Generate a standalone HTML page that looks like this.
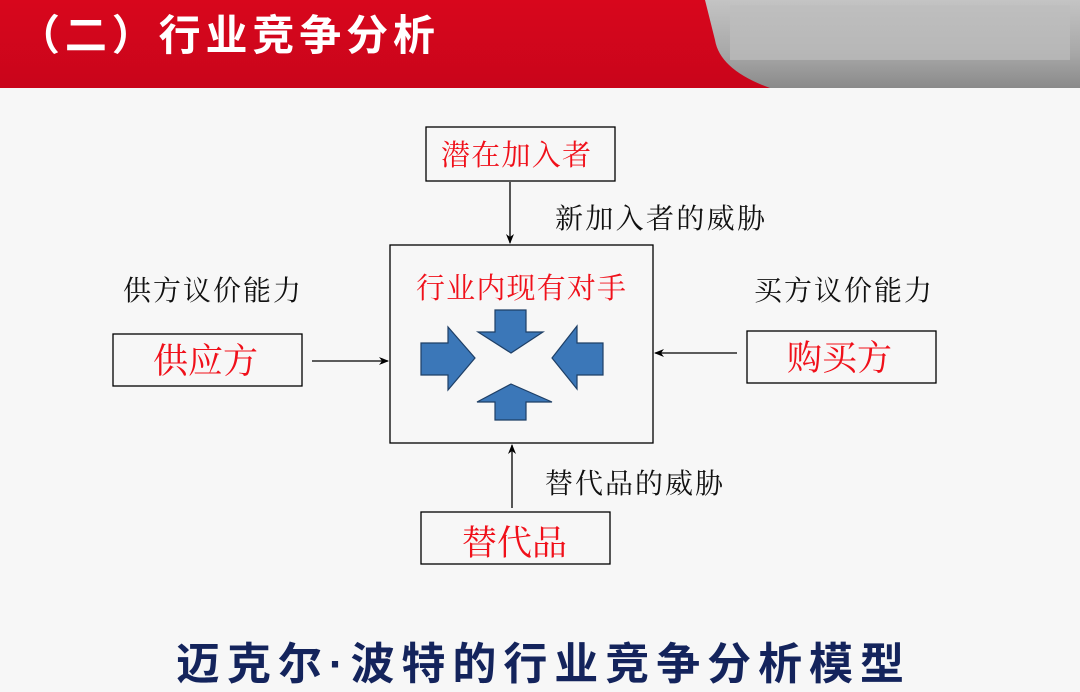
<!DOCTYPE html>
<html><head><meta charset="utf-8"><style>
html,body{margin:0;padding:0;background:#f7f7f7;}
svg{display:block}
</style></head><body>
<svg width="1080" height="692" viewBox="0 0 1080 692" xmlns="http://www.w3.org/2000/svg">
<defs>
<linearGradient id="rd" x1="0" y1="0" x2="0" y2="1">
<stop offset="0" stop-color="#d8061c"/><stop offset="1" stop-color="#c9051b"/></linearGradient>
<linearGradient id="gr" x1="0" y1="0" x2="0" y2="1">
<stop offset="0" stop-color="#c4c4c4"/><stop offset="0.6" stop-color="#a8a8a8"/><stop offset="1" stop-color="#8a8a8a"/></linearGradient>
<marker id="ar" markerWidth="10" markerHeight="8" refX="9" refY="4" orient="auto" markerUnits="userSpaceOnUse">
<path d="M0,0 L10,4 L0,8 L3,4 Z" fill="#000"/></marker>
</defs>
<rect width="1080" height="692" fill="#f7f7f7"/>
<rect x="0" y="0" width="1080" height="88" fill="url(#rd)"/>
<path d="M705,0 H1080 V88 H770 Q720,70 715,40 Z" fill="url(#gr)"/>
<rect x="730" y="5" width="340" height="55" fill="#bdbdbd" opacity="0.7"/>
<text x="18" y="50" font-family="'Liberation Sans','Noto Sans CJK SC',sans-serif" font-size="42" fill="#fff" font-weight="bold" textLength="417" lengthAdjust="spacing">（二）行业竞争分析</text>

<g fill="none" stroke="#000" stroke-width="1.3">
<rect x="426" y="127" width="189" height="54"/>
<rect x="390" y="245" width="263" height="198"/>
<rect x="113" y="334" width="189" height="52"/>
<rect x="747" y="331" width="189" height="52"/>
<rect x="421" y="512" width="189" height="52"/>
<line x1="510" y1="182" x2="510" y2="243" marker-end="url(#ar)"/>
<line x1="312" y1="361" x2="388" y2="361" marker-end="url(#ar)"/>
<line x1="737" y1="353" x2="655" y2="353" marker-end="url(#ar)"/>
<line x1="512" y1="508" x2="512" y2="445" marker-end="url(#ar)"/>
</g>
<g fill="#3b77b8" stroke="#1e3f66" stroke-width="1.2">
<polygon points="421,343 448,343 448,327 475,358 448,390 448,375 421,375"/>
<polygon points="495,310 526,310 526,332 543,332 511,353 478,332 495,332"/>
<polygon points="603,343 577,343 577,326 552,358 577,389 577,375 603,375"/>
<polygon points="511,384 552,402 526,402 526,420 495,420 495,402 477,402"/>
</g>
<g font-family="'Liberation Serif','Noto Serif CJK SC',serif">
<text x="441" y="165" font-size="29" fill="#f0101a" textLength="150">潜在加入者</text>
<text x="416" y="298" font-size="29" fill="#f0101a" textLength="210">行业内现有对手</text>
<text x="153" y="373" font-size="35" fill="#f0101a" textLength="105">供应方</text>
<text x="787" y="370" font-size="35" fill="#f0101a" textLength="105">购买方</text>
<text x="462" y="555" font-size="35" fill="#f0101a" textLength="105">替代品</text>
<text x="555" y="228" font-size="28" fill="#111" textLength="210">新加入者的威胁</text>
<text x="123" y="300" font-size="28" fill="#111" textLength="178">供方议价能力</text>
<text x="754" y="300" font-size="28" fill="#111" textLength="178">买方议价能力</text>
<text x="545" y="493" font-size="28" fill="#111" textLength="178">替代品的威胁</text>
</g>
<text x="176" y="679" font-family="'Liberation Sans','Noto Sans CJK SC',sans-serif" font-size="44" font-weight="bold" fill="#14245c" textLength="728" lengthAdjust="spacing">迈克尔·波特的行业竞争分析模型</text>
</svg>
</body></html>
